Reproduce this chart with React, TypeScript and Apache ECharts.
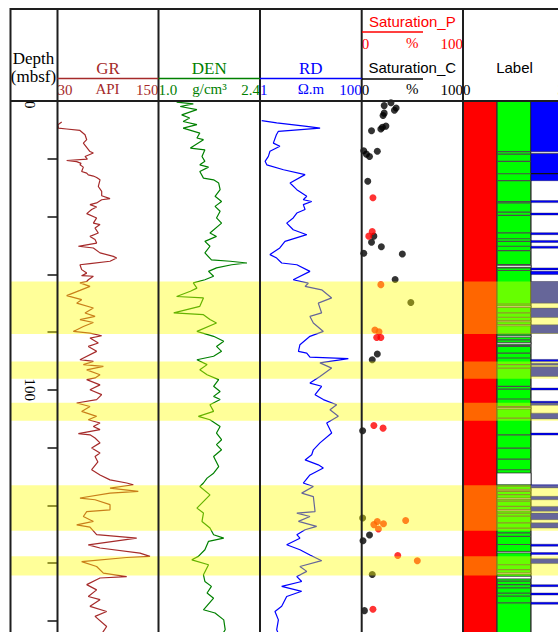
import React, { useEffect, useRef } from 'react';
import * as echarts from 'echarts';

// ---------------- data (depth in mbsf) ----------------
const grDepth = [7.3, 8.2, 9.4, 9.7, 10.2, 11.7, 13.4, 14.6, 17.5, 18.0, 19.2, 20.1, 20.6, 21.0, 21.6, 22.1, 22.9, 24.4, 25.0, 25.6, 26.0, 26.5, 27.3, 29.6, 31.3, 32.8, 33.8, 34.2, 35.3, 35.9, 36.7, 37.6, 39.0, 40.5, 42.3, 42.8, 44.0, 45.7, 46.9, 48.0, 49.2, 49.8, 50.3, 50.9, 52.6, 53.8, 54.4, 55.5, 56.3, 56.7, 58.4, 59.6, 60.5, 60.7, 61.9, 62.5, 63.0, 64.2, 65.6, 67.4, 68.8, 70.0, 71.7, 73.4, 74.6, 75.7, 76.7, 78.1, 79.8, 80.4, 81.3, 82.1, 83.8, 85.0, 86.7, 89.6, 90.2, 91.3, 91.9, 93.1, 94.8, 95.9, 96.5, 98.3, 100.0, 101.7, 103.4, 104.6, 105.8, 107.5, 109.2, 110.4, 111.5, 112.7, 113.8, 115.2, 115.6, 116.7, 118.4, 120.2, 121.9, 123.1, 125.0, 127.7, 129.5, 131.2, 132.3, 132.9, 134.1, 135.2, 135.8, 137.5, 138.1, 139.8, 141.6, 142.2, 143.9, 145.6, 146.8, 147.6, 150.2, 151.4, 153.7, 154.8, 156.6, 157.7, 158.1, 159.5, 161.2, 163.5, 164.7, 165.2, 167.5, 169.3, 171.6, 172.7, 175.0, 176.8, 178.5, 182.0, 183.7, 186.0, 189.0];
const grValue = [35.0, 30.5, 31.0, 40.9, 56.7, 62.7, 64.7, 60.7, 68.6, 72.6, 62.7, 65.5, 40.9, 52.8, 58.0, 56.7, 60.7, 58.7, 64.7, 66.6, 72.6, 76.5, 80.5, 78.5, 82.5, 82.5, 92.4, 82.5, 76.5, 68.6, 76.5, 70.6, 64.7, 76.5, 72.6, 80.5, 74.6, 78.5, 68.6, 74.6, 76.5, 64.7, 54.8, 72.6, 80.5, 96.3, 100.3, 92.4, 68.6, 56.7, 58.7, 64.7, 58.7, 72.6, 66.6, 64.7, 56.7, 68.6, 56.7, 40.9, 58.7, 52.8, 72.6, 62.7, 74.6, 56.7, 72.6, 60.7, 48.8, 68.6, 82.5, 68.6, 78.5, 66.6, 76.5, 56.7, 72.6, 60.7, 84.5, 64.7, 80.5, 74.6, 64.7, 80.5, 68.6, 82.5, 76.5, 52.8, 68.6, 58.7, 76.5, 66.6, 80.5, 72.6, 80.5, 54.8, 68.6, 74.6, 80.5, 70.6, 80.5, 74.6, 78.0, 70.6, 80.5, 92.4, 112.2, 120.1, 92.4, 126.0, 92.4, 56.7, 74.6, 92.4, 92.4, 64.7, 60.7, 72.6, 52.8, 68.6, 76.5, 124.1, 66.6, 80.5, 128.0, 139.9, 112.2, 58.7, 76.5, 84.5, 112.2, 80.5, 64.7, 76.5, 66.6, 80.5, 68.6, 88.4, 74.6, 88.4, 84.5, 78.0, 85.0];

const denDepth = [0.4, 1.0, 1.9, 3.0, 4.8, 5.9, 7.1, 8.2, 9.4, 11.1, 12.8, 13.4, 16.3, 16.9, 19.2, 20.9, 22.1, 22.9, 24.4, 26.7, 27.3, 28.4, 30.7, 33.0, 34.8, 36.5, 38.2, 40.5, 42.3, 45.7, 46.9, 48.6, 50.3, 52.6, 55.0, 55.5, 56.1, 56.7, 57.8, 59.0, 60.7, 61.9, 63.0, 64.8, 65.9, 67.7, 68.2, 71.1, 73.4, 74.0, 75.7, 76.9, 79.8, 81.5, 83.2, 85.0, 86.7, 88.4, 89.6, 91.3, 93.1, 94.8, 96.5, 98.8, 100.6, 102.3, 103.4, 105.2, 107.5, 109.2, 110.4, 112.7, 115.0, 117.3, 119.0, 120.8, 123.1, 126.6, 128.9, 130.6, 132.3, 133.5, 136.4, 141.0, 142.7, 145.6, 147.9, 150.2, 151.4, 152.5, 155.4, 157.7, 158.9, 160.6, 164.1, 166.4, 168.1, 170.4, 172.2, 176.2, 177.3, 179.7, 183.1, 186.0, 189.0];
const denValue = [1.25, 1.48, 1.30, 1.53, 1.32, 1.43, 1.34, 1.53, 1.34, 1.57, 1.53, 1.62, 1.44, 1.64, 1.60, 1.64, 1.57, 1.69, 1.57, 1.62, 1.76, 1.83, 1.85, 1.78, 1.87, 1.78, 1.85, 1.80, 1.87, 1.71, 1.80, 1.64, 1.71, 1.64, 1.73, 1.99, 2.22, 2.01, 1.80, 1.69, 1.76, 1.64, 1.48, 1.53, 1.44, 1.25, 1.62, 1.57, 1.21, 1.62, 1.71, 1.80, 1.53, 1.76, 1.90, 1.80, 1.87, 1.76, 1.53, 1.67, 1.57, 1.67, 1.83, 1.76, 1.85, 1.76, 1.85, 1.71, 1.76, 1.55, 1.71, 1.85, 1.80, 1.87, 1.80, 1.87, 1.76, 1.83, 1.76, 1.67, 1.62, 1.57, 1.71, 1.53, 1.62, 1.60, 1.71, 1.76, 1.90, 1.69, 1.64, 1.55, 1.46, 1.69, 1.62, 1.64, 1.73, 1.67, 1.76, 1.62, 1.78, 1.90, 1.92, 1.85, 1.90];

const rdDepth = [6.8, 7.6, 8.8, 9.4, 10.5, 11.7, 14.6, 15.7, 17.4, 19.2, 20.9, 22.1, 23.8, 25.5, 28.4, 30.7, 33.0, 34.2, 34.8, 35.9, 37.6, 38.8, 40.5, 42.3, 44.6, 46.3, 48.6, 50.9, 53.2, 54.4, 56.1, 56.7, 59.0, 61.9, 63.1, 64.2, 65.4, 68.2, 70.0, 73.4, 74.6, 76.9, 79.8, 81.5, 84.4, 86.7, 87.3, 88.7, 89.2, 90.7, 92.5, 95.4, 97.7, 98.8, 101.7, 103.4, 105.2, 106.9, 109.2, 111.5, 115.0, 118.4, 120.8, 122.5, 124.3, 126.0, 127.1, 129.5, 132.3, 133.5, 135.8, 137.0, 142.2, 142.7, 143.9, 145.6, 147.3, 148.5, 150.2, 151.4, 153.7, 155.4, 157.2, 159.2, 161.2, 162.9, 164.7, 166.4, 168.1, 169.8, 171.6, 175.0, 176.8, 179.7, 183.1, 186.0];
const rdValue = [1.08, 2.13, 8.3, 15.2, 2.3, 2.1, 1.83, 2.46, 1.57, 1.46, 1.26, 1.36, 2.9, 7.7, 3.9, 5.3, 8.3, 7.1, 10.4, 7.1, 7.7, 5.3, 4.5, 3.35, 4.5, 8.3, 3.1, 2.45, 1.57, 2.13, 2.67, 5.3, 9.6, 4.5, 8.9, 7.7, 16.3, 25.7, 14.0, 16.3, 9.6, 11.2, 17.6, 9.6, 6.1, 5.7, 8.3, 9.6, 54.6, 15.1, 25.7, 15.1, 9.6, 16.3, 12.1, 17.6, 32.2, 23.8, 34.7, 20.5, 25.7, 15.1, 11.2, 10.4, 7.7, 14.0, 17.6, 9.6, 7.1, 11.2, 6.6, 11.2, 12.1, 5.3, 9.6, 5.7, 13.0, 7.7, 5.3, 6.1, 3.35, 6.1, 9.6, 16.3, 6.1, 8.3, 5.3, 6.6, 2.67, 6.6, 3.35, 2.67, 1.97, 2.3, 2.13, 2.5];

const satCDepth = [0.6, 1.6, 2.4, 3.2, 4.2, 5.0, 8.7, 9.1, 9.7, 10.3, 17.2, 17.4, 18.4, 19.2, 27.8, 46.8, 48.9, 50.5, 52.7, 53.0, 61.8, 69.8, 87.6, 89.6, 114.2, 144.4, 150.3, 152.3, 164.0, 176.5];
const satCValue = [28.9, 22.2, 34.0, 32.3, 22.2, 21.1, 23.9, 20.5, 18.9, 9.7, 2.0, 15.4, 4.6, 7.7, 6.0, 12.0, 9.7, 19.4, 2.0, 40.1, 33.0, 48.5, 15.4, 10.4, 0.9, 0.9, 7.7, 1.3, 10.4, 2.7];

const satPDepth = [33.5, 45.2, 46.8, 63.6, 79.3, 79.9, 81.9, 81.9, 112.4, 113.3, 146.7, 145.6, 146.4, 148.2, 145.3, 157.4, 159.2, 176.0];
const satPValue = [11.1, 10.4, 7.0, 18.9, 13.0, 17.1, 14.8, 18.9, 12.0, 21.1, 12.0, 15.4, 21.5, 16.5, 43.4, 35.6, 54.9, 11.1];

// highlighted intervals
const bandTop = [62.5, 90.2, 104.5, 133.1, 157.7];
const bandBottom = [80.7, 96.2, 110.7, 148.8, 164.3];

// Label track
const labelCol2Breaks = [17.5, 18.4, 20.9, 25.2, 27.6, 34.8, 35.3, 38.5, 39.6, 45.7, 47.7, 48.6, 50.3, 51.8, 56.7, 57.8, 58.7, 70.3, 73.4, 74.9, 80.7, 82.7, 84.6, 85.0, 87.3, 89.0, 91.3, 92.5, 98.8, 99.8, 103.2, 105.8, 109.8, 115.6, 120.2, 124.0, 127.7, 133.4, 135.2, 136.3, 138.6, 140.4, 142.7, 143.8, 146.1, 147.9, 149.6, 150.8, 153.6, 160.6, 162.3, 166.3, 167.5, 168.6, 170.4, 171.5, 173.8];
const labelCol2Gaps = [[56.9, 57.6], [71.0, 71.5], [76.0, 76.4], [77.4, 77.8], [81.3, 81.8], [83.6, 84.2], [106.2, 106.6], [128.8, 132.9], [134.5, 134.8], [137.5, 137.8], [141.5, 141.8], [156.0, 156.5], [163.4, 163.8], [164.6, 165.5]];
const labelCol3Blue = [[0, 27.6], [34.5, 34.9], [38.8, 39.4], [45.6, 45.9], [48.3, 48.6], [50.3, 50.9], [57.8, 58.3], [59.0, 60.1], [62.5, 70.0], [71.7, 75.0], [77.5, 80.5], [89.5, 90.0], [90.8, 91.3], [92.0, 95.4], [99.4, 99.8], [104.0, 104.2], [104.6, 105.4], [108.1, 110.1], [115.0, 115.4], [132.9, 134.0], [136.9, 138.1], [140.4, 142.1], [142.7, 145.0], [146.1, 147.9], [153.5, 153.8], [156.4, 156.7], [158.5, 160.2], [167.5, 167.9], [170.4, 170.8], [173.6, 174.0]];
const labelCol3Gaps = [[17.6, 18.2]];
const labelCol3Lines = [25.15];
const labelColumnFill = ['#ff0000', '#00ff00', '#ffffff'];

const depthTickLabels = [0, 100];

// ---------------- styling ----------------
const SERIF = '"Liberation Serif", "Times New Roman", serif';
const SANS = '"Liberation Sans", Arial, sans-serif';
const GR_C = '#a52a2a';
const DEN_C = '#008000';
const RD_C = '#0000ff';
const P_C = '#ff0000';
const FRAME = '#1e1e1e';

const TOP = 101;
const H = 577.5;
const tracks = [
  { left: 57.5, width: 101 },
  { left: 158.5, width: 101.5 },
  { left: 260, width: 101.7 },
  { left: 361.7, width: 101.3 },
  { left: 463, width: 102 },
  { left: 10.5, width: 555 },
];

function zip(vals: number[], deps: number[]) {
  const n = Math.min(vals.length, deps.length);
  const out: number[][] = [];
  for (let i = 0; i < n; i++) out.push([vals[i], deps[i]]);
  return out;
}

function topAxis(gridIndex: number, min: number, max: number, interval: number, color: string, extra: any = {}) {
  return {
    type: 'value', gridIndex, min, max, interval, position: 'top',
    axisLine: { show: false }, axisTick: { show: false }, splitLine: { show: false },
    axisLabel: { color, fontFamily: SERIF, fontSize: 15, margin: 4, alignMinLabel: 'left', alignMaxLabel: 'right' },
    ...extra,
  };
}

function txt(text: string, x: number, y: number, color: string, font: string) {
  return {
    type: 'text', x, y, z: 100,
    style: { text, fill: color, font, align: 'center', verticalAlign: 'middle', textAlign: 'center', textVerticalAlign: 'middle' },
  };
}
function ln(x1: number, y1: number, x2: number, y2: number, color: string, w: number) {
  return { type: 'line', z: 100, shape: { x1, y1, x2, y2 }, style: { stroke: color, lineWidth: w } };
}

// rect between [col, top] and [col+1, bottom] in label-track data space
function rectItem(api: any, col: number, top: number, bottom: number, style: any, minH: number) {
  const p0 = api.coord([col, top]);
  const p1 = api.coord([col + 1, bottom]);
  return {
    type: 'rect',
    shape: { x: p0[0], y: p0[1], width: p1[0] - p0[0], height: Math.max(p1[1] - p0[1], minH) },
    style,
  };
}

function hLine(api: any, col: number, depth: number, color: string) {
  const p0 = api.coord([col, depth]);
  const p1 = api.coord([col + 1, depth]);
  return { type: 'line', shape: { x1: p0[0], y1: p0[1], x2: p1[0], y2: p1[1] }, style: { stroke: color, lineWidth: 1.2 } };
}

export default function App() {
  const ref = useRef<HTMLDivElement>(null);
  useEffect(() => {
    if (!ref.current) return;
    const chart = echarts.init(ref.current, undefined, { renderer: 'svg' });

    const verticals = [10.5, 57.5, 158.5, 260, 361.7, 463];
    const UNIT = `15px ${SERIF}`;
    const graphic: any[] = [
      ln(10, 9, 558, 9, FRAME, 2),
      ln(10, 101, 558, 101, FRAME, 2),
      ...verticals.map((x) => ln(x, 8, x, 632, FRAME, 2)),
      txt('Depth', 33.5, 58, '#000', `17px ${SERIF}`),
      txt('(mbsf)', 33.5, 76, '#000', `17px ${SERIF}`),
      txt('GR', 108, 68, GR_C, `17px ${SERIF}`),
      ln(57.5, 78.5, 158.5, 78.5, GR_C, 1.5),
      txt('API', 107.5, 89, GR_C, UNIT),
      txt('DEN', 209.25, 68, DEN_C, `17px ${SERIF}`),
      ln(158.5, 78.5, 260, 78.5, DEN_C, 1.5),
      txt('g/cm³', 209.5, 89, DEN_C, UNIT),
      txt('RD', 310.8, 68, RD_C, `17px ${SERIF}`),
      ln(260, 78.5, 361.7, 78.5, RD_C, 1.5),
      txt('Ω.m', 311, 89, RD_C, UNIT),
      txt('Saturation_P', 412.3, 21, P_C, `15px ${SANS}`),
      ln(362, 32, 423, 32, P_C, 1.5),
      txt('%', 412.3, 43, P_C, UNIT),
      txt('Saturation_C', 412.3, 67, '#000', `15px ${SANS}`),
      ln(362, 79, 423, 79, '#000', 1.5),
      txt('%', 412.3, 89, '#000', UNIT),
      txt('Label', 514.5, 67, '#000', `15px ${SANS}`),
    ];

    const option: any = {
      animation: false,
      backgroundColor: '#fff',
      grid: tracks.map((t) => ({ left: t.left, width: t.width, top: TOP, height: H, outerBoundsMode: 'none', containLabel: false })),
      xAxis: [
        topAxis(0, 30, 150, 120, GR_C),
        topAxis(1, 1.0, 2.4, 1.4, DEN_C, { axisLabel: { color: DEN_C, fontFamily: SERIF, fontSize: 15, margin: 4, alignMinLabel: 'left', alignMaxLabel: 'right', formatter: (v: number) => v.toFixed(1) } }),
        {
          type: 'log', logBase: 10, gridIndex: 2, min: 1, max: 100, position: 'top',
          axisLine: { show: false }, axisTick: { show: false }, splitLine: { show: false }, minorTick: { show: false }, minorSplitLine: { show: false },
          axisLabel: { color: RD_C, fontFamily: SERIF, fontSize: 15, margin: 4, alignMinLabel: 'left', alignMaxLabel: 'right', formatter: (v: number) => (Math.abs(v - 10) < 1e-6 ? '' : String(Math.round(v))) },
        },
        topAxis(3, 0, 100, 100, '#000'),
        topAxis(3, 0, 100, 100, P_C, { offset: 46 }),
        topAxis(4, 0, 3, 3, '#000'),
        { type: 'value', gridIndex: 5, min: 0, max: 1, show: false },
      ],
      yAxis: tracks.map((_, i) => ({
        type: 'value', gridIndex: i, inverse: true, min: 0, max: 200, interval: 20,
        show: i === 0,
        axisLine: { show: false },
        splitLine: { show: false },
        axisTick: { show: i === 0, inside: false, length: 10, lineStyle: { color: '#111', width: 1.5 } },
        axisLabel: {
          show: i === 0, rotate: -90, margin: 20, color: '#000', fontFamily: SERIF, fontSize: 15,
          alignMinLabel: 'left',
          formatter: (v: number) => (depthTickLabels.indexOf(Math.round(v)) >= 0 ? String(Math.round(v)) : ''),
        },
      })),
      graphic,
      series: [
        {
          type: 'line', xAxisIndex: 0, yAxisIndex: 0, data: zip(grValue, grDepth), showSymbol: false, symbol: 'none',
          lineStyle: { color: GR_C, width: 1.2 }, z: 3,
        },
        {
          type: 'line', xAxisIndex: 1, yAxisIndex: 1, data: zip(denValue, denDepth), showSymbol: false, symbol: 'none',
          lineStyle: { color: DEN_C, width: 1.2 }, z: 3,
        },
        {
          type: 'line', xAxisIndex: 2, yAxisIndex: 2, data: zip(rdValue, rdDepth), showSymbol: false, symbol: 'none',
          lineStyle: { color: RD_C, width: 1.2 }, z: 3,
        },
        {
          type: 'scatter', xAxisIndex: 3, yAxisIndex: 3, data: zip(satCValue, satCDepth), symbolSize: 7,
          itemStyle: { color: '#000' }, z: 3,
        },
        {
          type: 'scatter', xAxisIndex: 4, yAxisIndex: 3, data: zip(satPValue, satPDepth), symbolSize: 7,
          itemStyle: { color: P_C }, z: 3,
        },
        // label track: column backgrounds
        {
          type: 'custom', xAxisIndex: 5, yAxisIndex: 4, clip: true, z: 1,
          data: labelColumnFill.map((_, i) => [i, 0, 200]),
          renderItem: (p: any, api: any) =>
            rectItem(api, api.value(0), api.value(1), api.value(2), { fill: labelColumnFill[p.dataIndex], stroke: '#333', lineWidth: 1.2 }, 1),
        },
        // column 2 break lines
        {
          type: 'custom', xAxisIndex: 5, yAxisIndex: 4, clip: true, z: 2,
          data: labelCol2Breaks.map((d) => [1, d]),
          renderItem: (_p: any, api: any) => hLine(api, 1, api.value(1), '#4d4d4d'),
        },
        // column 2 white gaps
        {
          type: 'custom', xAxisIndex: 5, yAxisIndex: 4, clip: true, z: 3,
          data: labelCol2Gaps.map(([a, b]) => [1, a, b]),
          renderItem: (_p: any, api: any) =>
            rectItem(api, 1, api.value(1), api.value(2), { fill: '#ffffff', stroke: '#333', lineWidth: 0.8 }, 1.3),
        },
        // column 3 blue intervals
        {
          type: 'custom', xAxisIndex: 5, yAxisIndex: 4, clip: true, z: 3,
          data: labelCol3Blue.map(([a, b]) => [2, a, b]),
          renderItem: (_p: any, api: any) =>
            rectItem(api, 2, api.value(1), api.value(2), { fill: '#0000ff', stroke: 'rgba(0,0,40,0.7)', lineWidth: 0.5 }, 2),
        },
        // column 3 white gaps and dark separators
        {
          type: 'custom', xAxisIndex: 5, yAxisIndex: 4, clip: true, z: 4,
          data: labelCol3Gaps.map(([a, b]) => [2, a, b]),
          renderItem: (_p: any, api: any) =>
            rectItem(api, 2, api.value(1), api.value(2), { fill: '#ffffff', stroke: '#222', lineWidth: 0.6 }, 1.5),
        },
        {
          type: 'custom', xAxisIndex: 5, yAxisIndex: 4, clip: true, z: 4,
          data: labelCol3Lines.map((d) => [2, d]),
          renderItem: (_p: any, api: any) => hLine(api, 2, api.value(1), '#111'),
        },
        // highlighted intervals overlay
        {
          type: 'custom', xAxisIndex: 6, yAxisIndex: 5, z: 10, clip: true,
          data: bandTop.map((t, i) => [0, t, bandBottom[i]]),
          renderItem: (_p: any, api: any) => {
            const p0 = api.coord([0, api.value(1)]);
            const p1 = api.coord([1, api.value(2)]);
            return {
              type: 'rect',
              shape: { x: p0[0], y: p0[1], width: p1[0] - p0[0], height: p1[1] - p0[1] },
              style: { fill: 'rgba(255,255,0,0.4)' },
            };
          },
        },
      ],
    };
    chart.setOption(option);
    return () => chart.dispose();
  }, []);
  return <div ref={ref} style={{ position: 'fixed', left: 0, top: 0, width: 558, height: 632 }} />;
}
